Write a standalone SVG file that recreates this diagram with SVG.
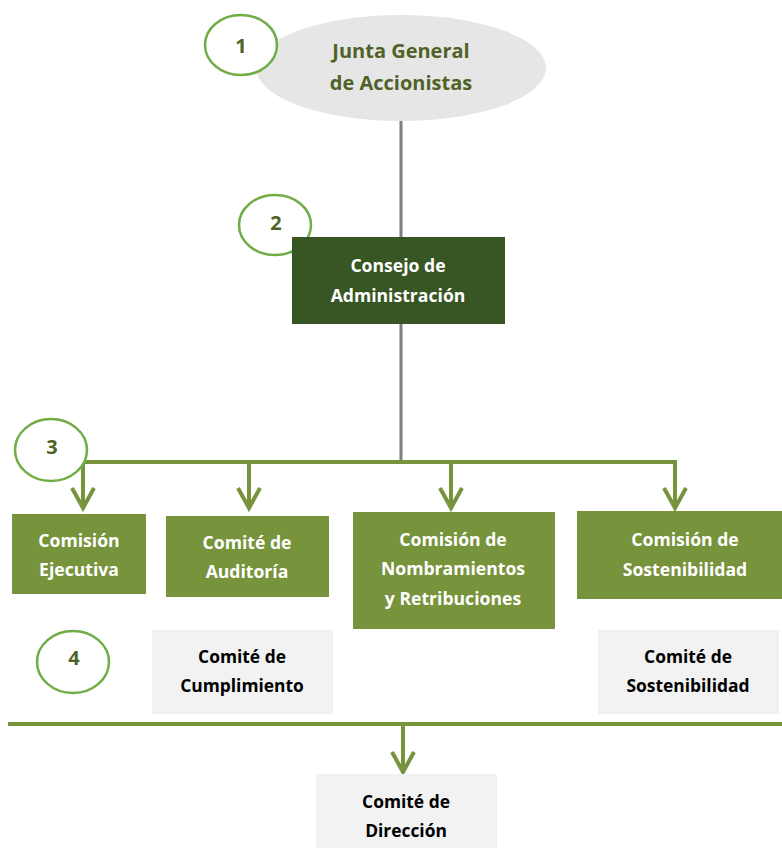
<svg xmlns="http://www.w3.org/2000/svg" width="782" height="848" viewBox="0 0 782 848">
<style>
text{font-family:"Open Sans","Liberation Sans",sans-serif;font-weight:700;text-anchor:middle}
.num{font-size:20px;fill:#4f6228}
.ring{fill:#ffffff;stroke:#70ad47;stroke-width:2.5}
.g{fill:#77933c}
.gt{font-size:17.6px;fill:#ffffff}
.lt{fill:#f2f2f2}
.bt{font-size:17.4px;fill:#000000}
.con{fill:none;stroke:#77933c;stroke-width:4}
</style>
<defs>
<marker id="chev" markerUnits="userSpaceOnUse" orient="auto" markerWidth="30" markerHeight="30" refX="0" refY="0" viewBox="-24 -15 30 30" overflow="visible">
<path d="M-20,-11 L0,0 L-20,11" fill="none" stroke="#77933c" stroke-width="4"/>
</marker>
</defs>
<g id="connectors">
<line x1="401" y1="120" x2="401" y2="462" stroke="#7f7f7f" stroke-width="3"/>
<path class="con" d="M82,462 H677"/>
<path class="con" d="M83,462 V508" marker-end="url(#chev)"/>
<path class="con" d="M249,462 V508" marker-end="url(#chev)"/>
<path class="con" d="M451,462 V508" marker-end="url(#chev)"/>
<path class="con" d="M675,462 V508" marker-end="url(#chev)"/>
<path class="con" d="M8,724 H782"/>
<path class="con" d="M403,724 V772" marker-end="url(#chev)"/>
</g>
<g id="junta">
<ellipse cx="401" cy="68" rx="145" ry="53" fill="#e7e6e6"/>
<text x="401" y="58" font-size="20" fill="#4f6228">Junta General</text>
<text x="401" y="90" font-size="20" fill="#4f6228">de Accionistas</text>
</g>
<g id="n1">
<ellipse class="ring" cx="241" cy="45" rx="36" ry="30"/>
<text class="num" x="241" y="53">1</text>
</g>
<g id="n2">
<ellipse class="ring" cx="275" cy="225" rx="36" ry="30"/>
<text class="num" x="276" y="230">2</text>
</g>
<g id="consejo">
<rect x="292" y="237" width="213" height="87" fill="#375623"/>
<text class="gt" x="398" y="272">Consejo de</text>
<text class="gt" x="398" y="302">Administración</text>
</g>
<g id="n3">
<ellipse class="ring" cx="51" cy="450" rx="36" ry="31"/>
<text class="num" x="52" y="454">3</text>
</g>
<g id="ejecutiva">
<rect class="g" x="12" y="514" width="134" height="80"/>
<text class="gt" x="79" y="547">Comisión</text>
<text class="gt" x="79" y="576">Ejecutiva</text>
</g>
<g id="auditoria">
<rect class="g" x="166" y="516" width="163" height="81"/>
<text class="gt" x="247" y="549">Comité de</text>
<text class="gt" x="247" y="578">Auditoría</text>
</g>
<g id="nombramientos">
<rect class="g" x="353" y="512" width="202" height="117"/>
<text class="gt" x="453" y="546">Comisión de</text>
<text class="gt" x="453" y="575">Nombramientos</text>
<text class="gt" x="453" y="605">y Retribuciones</text>
</g>
<g id="sostenibilidad">
<rect class="g" x="577" y="511" width="205" height="88"/>
<text class="gt" x="685" y="546">Comisión de</text>
<text class="gt" x="685" y="576">Sostenibilidad</text>
</g>
<g id="n4">
<ellipse class="ring" cx="73" cy="662" rx="36" ry="31"/>
<text class="num" x="74" y="665">4</text>
</g>
<g id="cumplimiento">
<rect class="lt" x="152" y="630" width="181" height="84"/>
<text class="bt" x="242" y="663">Comité de</text>
<text class="bt" x="242" y="692">Cumplimiento</text>
</g>
<g id="comite-sostenibilidad">
<rect class="lt" x="598" y="630" width="181" height="84"/>
<text class="bt" x="688" y="663">Comité de</text>
<text class="bt" x="688" y="692">Sostenibilidad</text>
</g>
<g id="direccion">
<rect class="lt" x="316" y="774" width="181" height="74"/>
<text class="bt" x="406" y="808">Comité de</text>
<text class="bt" x="406" y="837">Dirección</text>
</g>
</svg>
